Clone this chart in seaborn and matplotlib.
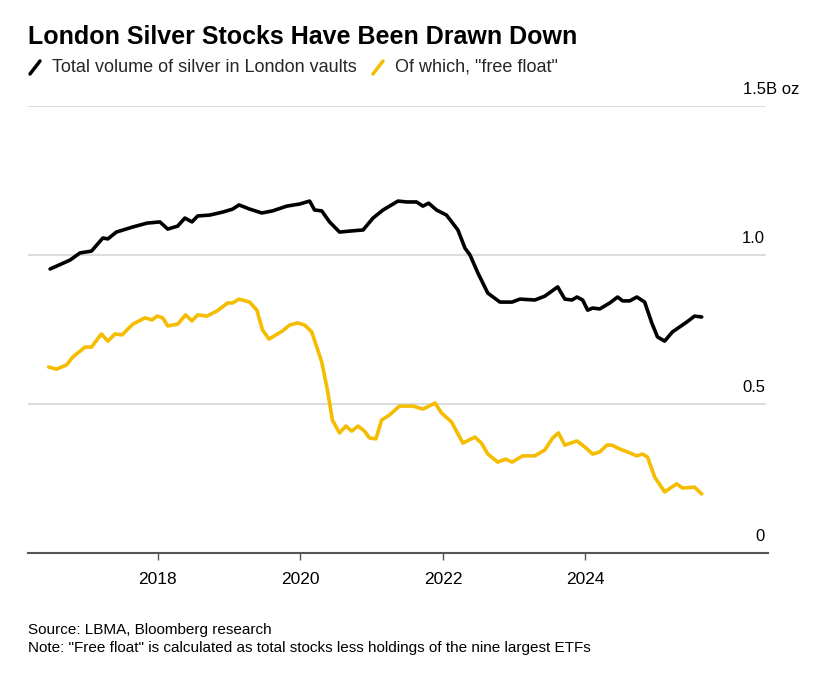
import matplotlib
matplotlib.use("Agg")
import matplotlib.pyplot as plt
import matplotlib.transforms as mtransforms
import seaborn as sns
import pandas as pd

# ---- data (decimal years, billions of oz) ----
total_years = [2016.49, 2016.77, 2016.91, 2017.07, 2017.23, 2017.30, 2017.42, 2017.65, 2017.85,
               2018.03, 2018.14, 2018.28, 2018.38, 2018.48, 2018.56, 2018.73, 2018.91, 2019.05,
               2019.14, 2019.29, 2019.46, 2019.61, 2019.81, 2019.99, 2020.13, 2020.20, 2020.30,
               2020.41, 2020.55, 2020.73, 2020.88, 2021.02, 2021.16, 2021.37, 2021.49, 2021.63,
               2021.72, 2021.80, 2021.91, 2022.05, 2022.21, 2022.31, 2022.38, 2022.49, 2022.63,
               2022.80, 2022.97, 2023.08, 2023.29, 2023.43, 2023.61, 2023.71, 2023.81, 2023.88,
               2023.96, 2024.03, 2024.10, 2024.20, 2024.34, 2024.45, 2024.52, 2024.62, 2024.72,
               2024.83, 2024.93, 2025.01, 2025.11, 2025.22, 2025.42, 2025.53, 2025.63]
total_values = [0.953, 0.983, 1.007, 1.013, 1.057, 1.054, 1.077, 1.094, 1.107,
                1.111, 1.087, 1.097, 1.124, 1.111, 1.131, 1.134, 1.144, 1.154,
                1.168, 1.154, 1.141, 1.148, 1.164, 1.171, 1.181, 1.151, 1.148,
                1.111, 1.077, 1.081, 1.084, 1.124, 1.151, 1.181, 1.178, 1.178,
                1.164, 1.174, 1.151, 1.134, 1.084, 1.023, 1.000, 0.940, 0.872,
                0.842, 0.842, 0.852, 0.849, 0.862, 0.893, 0.852, 0.849, 0.859,
                0.849, 0.815, 0.822, 0.819, 0.839, 0.859, 0.846, 0.846, 0.859,
                0.842, 0.772, 0.725, 0.711, 0.742, 0.775, 0.795, 0.792]

float_years = [2016.47, 2016.58, 2016.72, 2016.81, 2016.98, 2017.07, 2017.21, 2017.30, 2017.40,
               2017.50, 2017.65, 2017.82, 2017.92, 2017.99, 2018.07, 2018.14, 2018.28, 2018.39,
               2018.48, 2018.56, 2018.69, 2018.83, 2018.98, 2019.05, 2019.14, 2019.29, 2019.39,
               2019.47, 2019.56, 2019.75, 2019.85, 2019.96, 2020.06, 2020.16, 2020.30, 2020.38,
               2020.45, 2020.55, 2020.64, 2020.72, 2020.81, 2020.90, 2020.97, 2021.06, 2021.14,
               2021.25, 2021.39, 2021.58, 2021.72, 2021.89, 2021.98, 2022.12, 2022.28, 2022.45,
               2022.54, 2022.63, 2022.77, 2022.88, 2022.97, 2023.12, 2023.29, 2023.43, 2023.54,
               2023.62, 2023.71, 2023.88, 2023.99, 2024.10, 2024.20, 2024.30, 2024.37, 2024.48,
               2024.59, 2024.72, 2024.80, 2024.87, 2024.97, 2025.11, 2025.28, 2025.36, 2025.53,
               2025.63]
float_values = [0.624, 0.617, 0.631, 0.658, 0.691, 0.691, 0.735, 0.711, 0.735,
                0.732, 0.768, 0.789, 0.782, 0.795, 0.789, 0.762, 0.768, 0.799,
                0.779, 0.799, 0.795, 0.812, 0.839, 0.839, 0.852, 0.842, 0.815,
                0.748, 0.718, 0.745, 0.765, 0.772, 0.765, 0.742, 0.641, 0.547,
                0.446, 0.403, 0.426, 0.409, 0.426, 0.409, 0.386, 0.383, 0.446,
                0.463, 0.493, 0.493, 0.483, 0.503, 0.470, 0.440, 0.369, 0.389,
                0.369, 0.332, 0.305, 0.315, 0.305, 0.326, 0.326, 0.346, 0.386,
                0.403, 0.362, 0.376, 0.356, 0.332, 0.339, 0.362, 0.362, 0.349,
                0.339, 0.326, 0.332, 0.322, 0.255, 0.205, 0.232, 0.218, 0.221,
                0.198]

x_ticks = [2018, 2020, 2022, 2024]
x_tick_labels = ["2018", "2020", "2022", "2024"]
y_ticks = [0, 0.5, 1.0, 1.5]
y_tick_labels = ["0", "0.5", "1.0", "1.5B oz"]

series_names = ["Total volume of silver in London vaults", 'Of which, "free float"']
colors = ["#000000", "#F5BC00"]

df = pd.concat([
    pd.DataFrame({"year": total_years, "value": total_values, "series": series_names[0]}),
    pd.DataFrame({"year": float_years, "value": float_values, "series": series_names[1]}),
])

sns.set_theme(style="white")
plt.rcParams["font.family"] = ["Liberation Sans", "DejaVu Sans"]

fig = plt.figure(figsize=(8.32, 6.77), dpi=100)
ax = fig.add_axes([28 / 832, 1 - 553 / 677, 740 / 832, (553 - 106) / 677])

sns.lineplot(data=df, x="year", y="value", hue="series", palette=colors,
             linewidth=2.6, ax=ax, legend=False, sort=False)

ax.set_xlim(2016.18, 2026.56)
ax.set_ylim(0, 1.5)
ax.set_xlabel("")
ax.set_ylabel("")

# gridlines
for yv in y_ticks[1:]:
    ax.axhline(yv, xmin=0, xmax=(765 - 28) / 740, color="#dddddd", linewidth=1.5, zorder=0)

for s in ["top", "right", "left"]:
    ax.spines[s].set_visible(False)
ax.spines["bottom"].set_color("#555555")
ax.spines["bottom"].set_linewidth(1.5)

ax.set_yticks([])
ax.set_xticks(x_ticks)
ax.set_xticklabels(x_tick_labels, fontsize=12.5, color="#000000")
ax.tick_params(axis="x", direction="out", length=5, width=1, color="#555555", pad=9,
               bottom=True)

# y labels above gridlines on right
trans = mtransforms.blended_transform_factory(ax.transAxes, ax.transData)
offset = mtransforms.offset_copy(trans, fig=fig, x=0, y=9, units="dots")
for yv, lab in zip(y_ticks, y_tick_labels):
    if lab.endswith("oz"):
        ax.text((743 - 28) / 740, yv, lab, transform=offset, ha="left", va="bottom",
                fontsize=12, color="#000000")
    else:
        ax.text((765 - 28) / 740, yv, lab, transform=offset, ha="right", va="bottom",
                fontsize=12, color="#000000")

# title & legend
fig.text(28 / 832, 1 - 44 / 677, "London Silver Stocks Have Been Drawn Down",
         fontsize=18, fontweight="bold", ha="left", va="baseline", color="#000000")

leg_y = 1 - 72 / 677
fig.add_artist(plt.Line2D([30 / 832, 40 / 832], [1 - 74 / 677, 1 - 61 / 677],
                          color=colors[0], linewidth=2.5, transform=fig.transFigure))
fig.text(52 / 832, leg_y, series_names[0], fontsize=13, ha="left", va="baseline")
fig.add_artist(plt.Line2D([373 / 832, 383 / 832], [1 - 74 / 677, 1 - 61 / 677],
                          color=colors[1], linewidth=2.5, transform=fig.transFigure))
fig.text(395 / 832, leg_y, series_names[1], fontsize=13, ha="left", va="baseline")

# footer
fig.text(28 / 832, 1 - 634 / 677, "Source: LBMA, Bloomberg research", fontsize=11,
         ha="left", va="baseline", color="#000000")
fig.text(28 / 832, 1 - 652 / 677,
         'Note: "Free float" is calculated as total stocks less holdings of the nine largest ETFs',
         fontsize=11, ha="left", va="baseline", color="#000000")

fig.savefig("out.png", dpi=100)
